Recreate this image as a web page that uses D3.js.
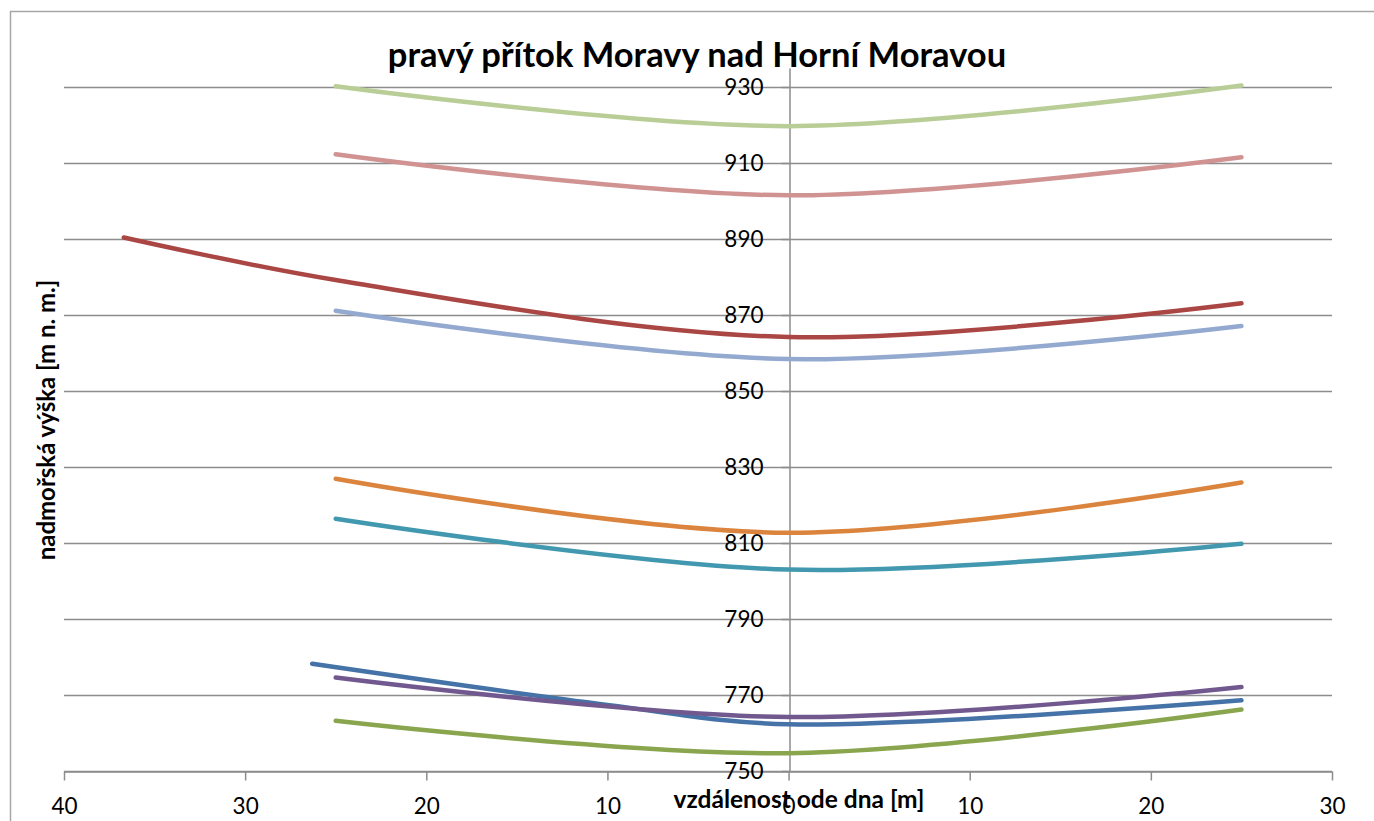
<!DOCTYPE html>
<html>
<head>
<meta charset="utf-8">
<script src="https://cdn.jsdelivr.net/npm/d3@7"></script>
<style>
  body { margin: 0; background: #fff; }
  svg { display: block; }
  text { font-family: Lato, "Open Sans", sans-serif; fill: #000; }
</style>
</head>
<body>
<div class="chart"></div>
<script>
// chart texts
var titleText = "pravý přítok Moravy nad Horní Moravou",
    xLabelText = "vzdálenost ode dna [m]",
    yLabelText = "nadmořská výška [m n. m.]";

// tick values
var xTicks = [-40, -30, -20, -10, 0, 10, 20, 30],
    yTicks = [750, 770, 790, 810, 830, 850, 870, 890, 910, 930];

// series (x = distance from bed, y = elevation)
var seriesNames = ["s1", "s2", "s3", "s4", "s5", "s6", "s7", "s8", "s9"];
var seriesColors = ["#4572a7", "#71588f", "#89a54e", "#4198af", "#db843d",
                    "#93a9cf", "#aa4643", "#d19392", "#b9cd96"];
var s1X = [-26.3, -10, 0, 25],   s1Y = [778.2, 767.4, 762.3, 768.6];
var s2X = [-25, 0, 25],          s2Y = [774.6, 764.2, 772.1];
var s3X = [-25, 0, 25],          s3Y = [763.2, 754.7, 766.2];
var s4X = [-25, 0, 25],          s4Y = [816.4, 803.0, 809.8];
var s5X = [-25, 0, 25],          s5Y = [826.9, 812.7, 825.9];
var s6X = [-25, 0, 25],          s6Y = [871.1, 858.4, 867.1];
var s7X = [-36.7, -25, 0, 25],   s7Y = [890.4, 879.2, 864.2, 873.1];
var s8X = [-25, 0, 25],          s8Y = [912.3, 901.5, 911.5];
var s9X = [-25, 0, 25],          s9Y = [930.2, 919.7, 930.4];

var allX = [s1X, s2X, s3X, s4X, s5X, s6X, s7X, s8X, s9X],
    allY = [s1Y, s2Y, s3Y, s4Y, s5Y, s6Y, s7Y, s8Y, s9Y];

var series = seriesNames.map(function(n, i) {
    return {
        name: n,
        color: seriesColors[i],
        values: allX[i].map(function(x, j) { return { x: x, y: allY[i][j] }; })
    };
});

// geometry
var W = 1374, H = 821;
var plot = { left: 64, right: 1332, top: 68, bottom: 771 };

var xScale = d3.scaleLinear().domain([-40, 30]).range([plot.left, plot.right]);
var yScale = d3.scaleLinear().domain([750, 935]).range([plot.bottom, plot.top]);

var svg = d3.select("div.chart").append("svg")
    .attr("width", W)
    .attr("height", H);

// outer frame of the chart object
svg.append("rect")
    .attr("x", 10.5).attr("y", 11.5)
    .attr("width", 1500).attr("height", 1000)
    .attr("fill", "none")
    .attr("stroke", "#a6a6a6")
    .attr("stroke-width", 1.5);

// horizontal gridlines
svg.append("g").selectAll("line")
    .data(yTicks)
    .enter().append("line")
    .attr("x1", plot.left)
    .attr("x2", plot.right)
    .attr("y1", function(d) { return Math.round(yScale(d)) + 0.5; })
    .attr("y2", function(d) { return Math.round(yScale(d)) + 0.5; })
    .attr("stroke", "#8c8c8c")
    .attr("stroke-width", 1.5);

// x axis
var xAxis = d3.axisBottom(xScale)
    .tickValues(xTicks)
    .tickSize(9)
    .tickPadding(18)
    .tickSizeOuter(0)
    .tickFormat(function(d) { return Math.abs(d); });

var gx = svg.append("g")
    .attr("transform", "translate(0," + (Math.round(yScale(750)) + 0.5) + ")")
    .call(xAxis);
gx.selectAll("path, line").attr("stroke", "#8c8c8c").attr("stroke-width", 1.5);
gx.selectAll("text").style("font-size", "22.5px").style("font-family", "Lato, sans-serif");

// y axis at x = 0
var yAxis = d3.axisLeft(yScale)
    .tickValues(yTicks)
    .tickSize(8)
    .tickPadding(18)
    .tickSizeOuter(0);

var gy = svg.append("g")
    .attr("transform", "translate(" + (Math.round(xScale(0)) + 0.5) + ",0)")
    .call(yAxis);
gy.selectAll("path, line").attr("stroke", "#8c8c8c").attr("stroke-width", 1.5);
gy.selectAll("text").style("font-size", "22.5px").style("font-family", "Lato, sans-serif");

// lines
var line = d3.line()
    .x(function(d) { return xScale(d.x); })
    .y(function(d) { return yScale(d.y); })
    .curve(d3.curveCatmullRom.alpha(0.5));

svg.append("g").selectAll("path")
    .data(series)
    .enter().append("path")
    .attr("d", function(d) { return line(d.values); })
    .attr("fill", "none")
    .attr("stroke", function(d) { return d.color; })
    .attr("stroke-width", 4.5)
    .attr("stroke-linecap", "round")
    .attr("stroke-linejoin", "round");

// title
svg.append("text")
    .attr("x", 697)
    .attr("y", 67)
    .style("text-anchor", "middle")
    .style("font-size", "34.5px")
    .style("font-weight", "bold")
    .text(titleText);

// x label
svg.append("text")
    .attr("x", 799)
    .attr("y", 808)
    .style("text-anchor", "middle")
    .style("font-size", "24.5px")
    .style("font-weight", "bold")
    .text(xLabelText);

// y label
svg.append("text")
    .attr("transform", "translate(55,420) rotate(-90)")
    .style("text-anchor", "middle")
    .style("font-size", "24px")
    .style("font-weight", "bold")
    .text(yLabelText);
</script>
</body>
</html>
